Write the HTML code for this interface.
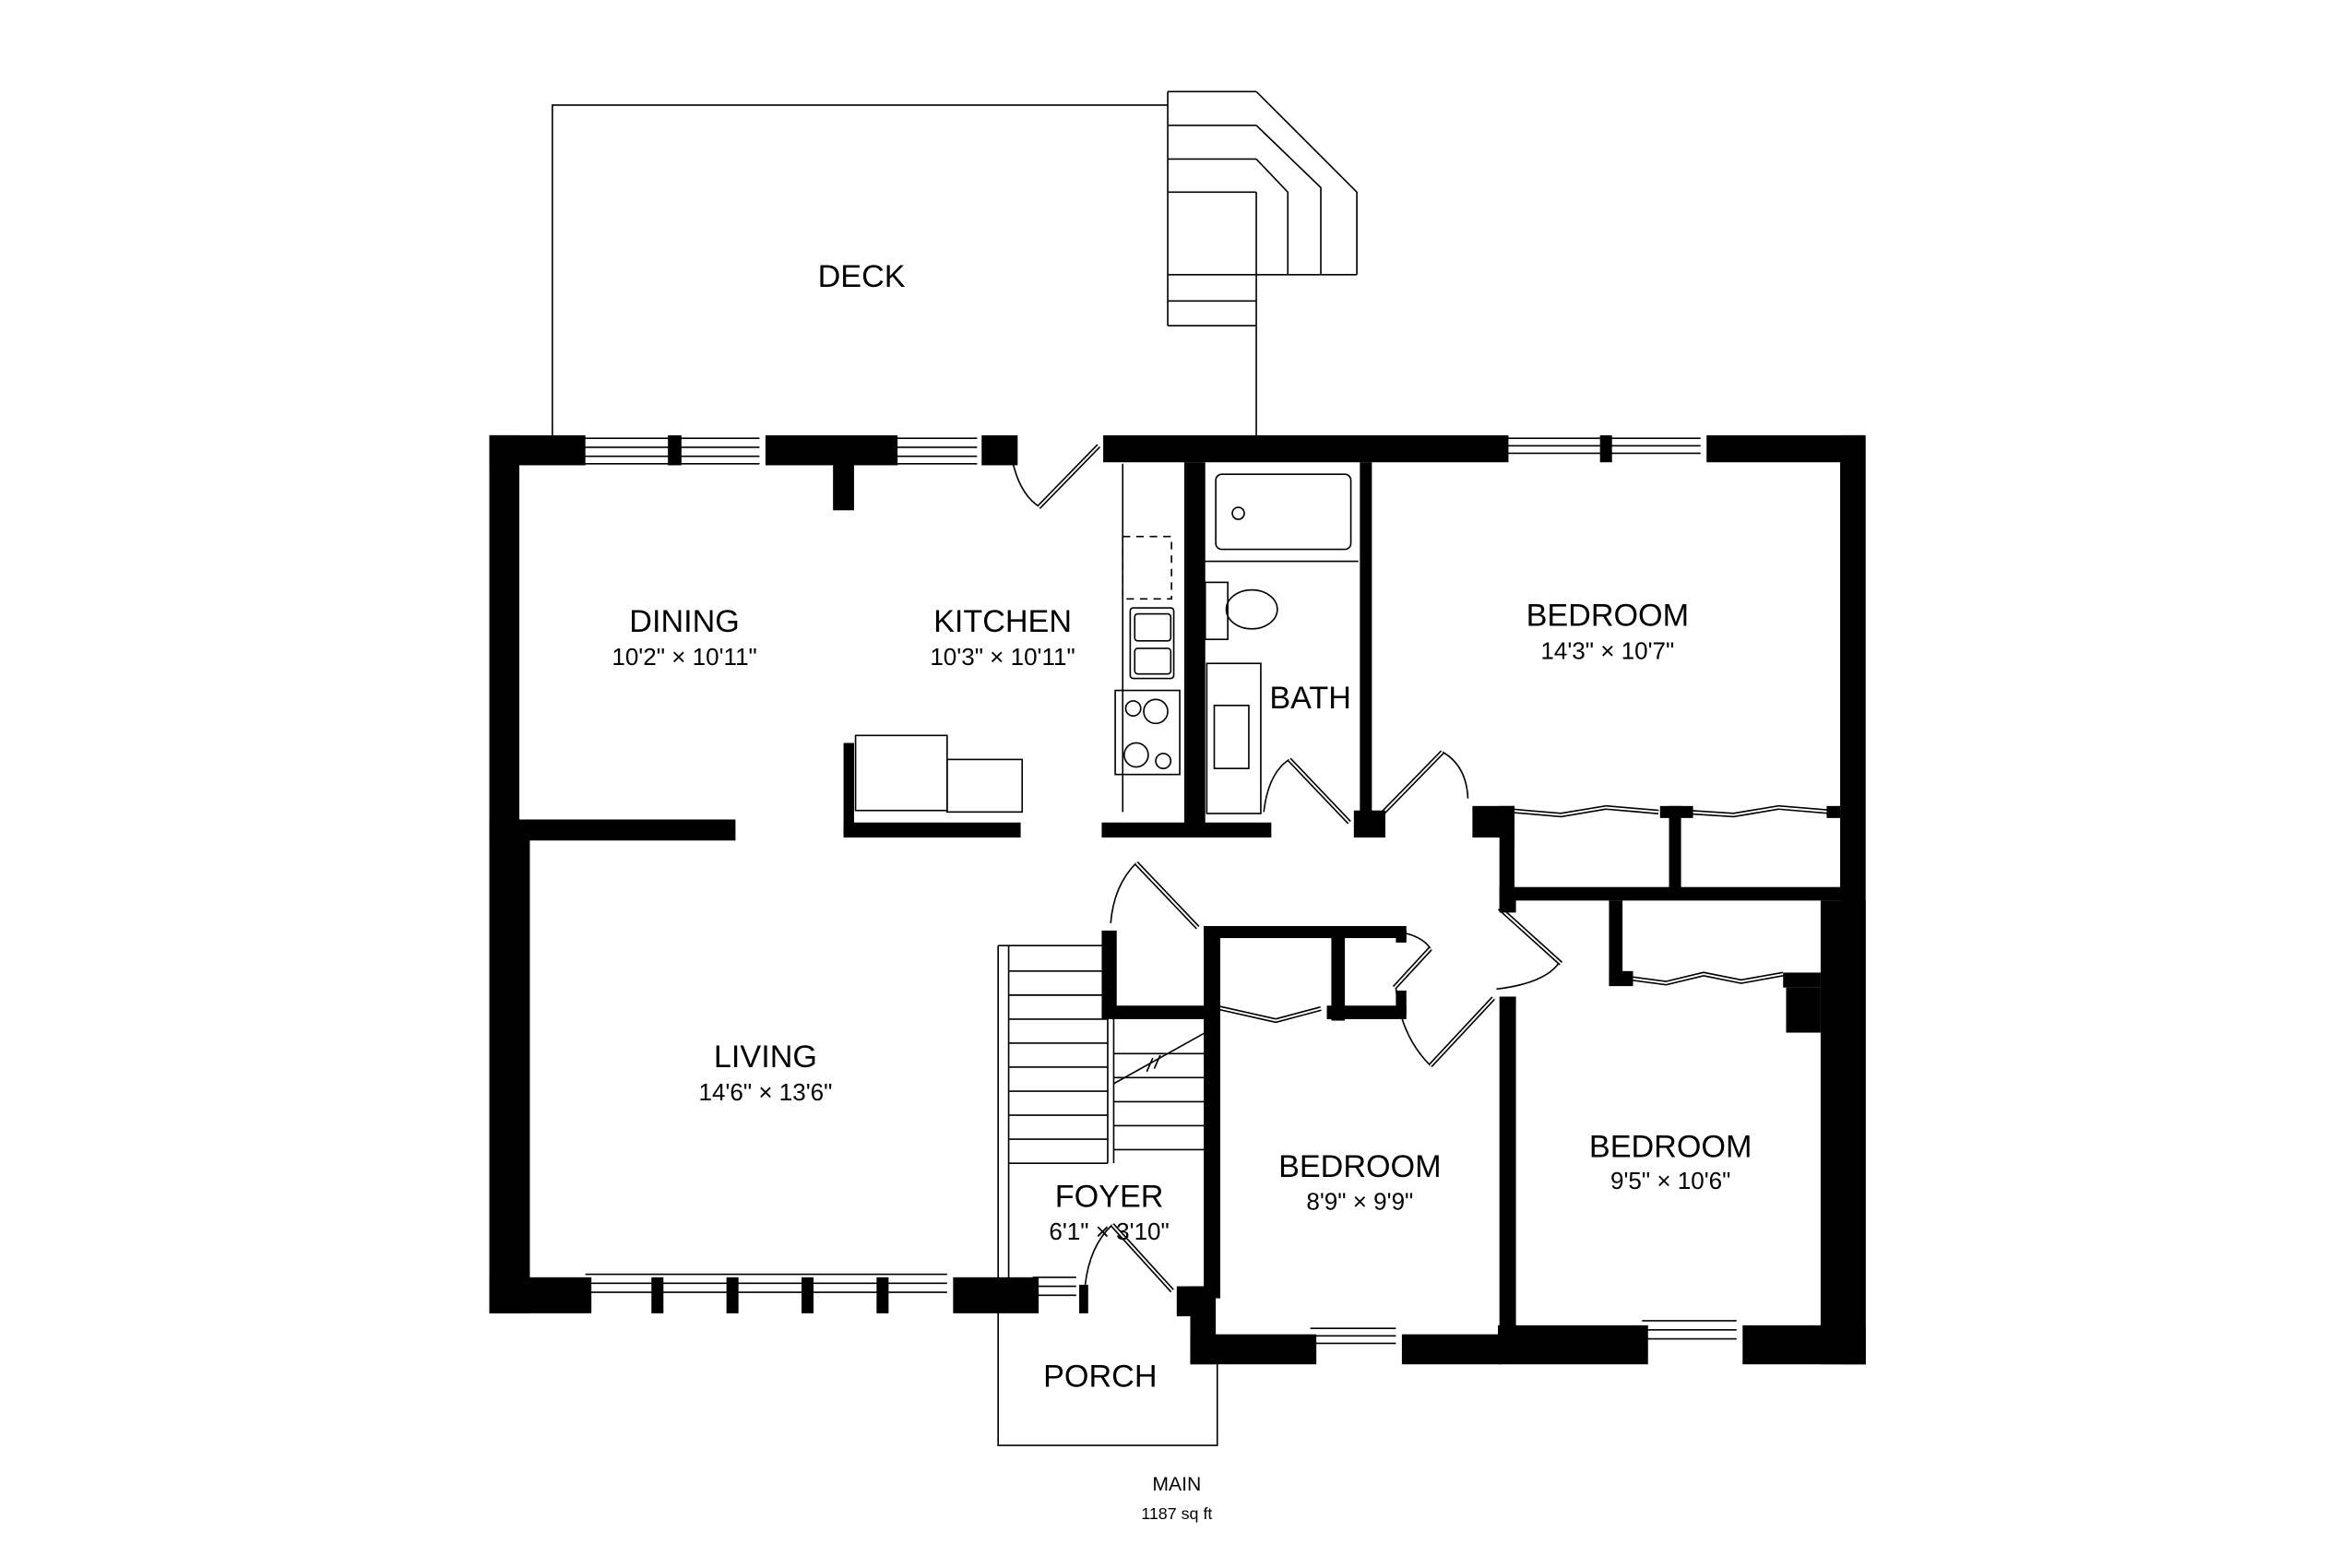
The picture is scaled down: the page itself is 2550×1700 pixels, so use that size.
<!DOCTYPE html>
<html><head><meta charset="utf-8"><style>
html,body{margin:0;padding:0;background:#fff}
svg{display:block}
text{font-family:"Liberation Sans",sans-serif;fill:#000}
</style></head><body>
<svg width="2550" height="1700" viewBox="0 0 1567 1044.7" xmlns="http://www.w3.org/2000/svg">
<rect x="0" y="0" width="1567" height="1044.7" fill="#fff"/>
<g fill="none" stroke="#000" stroke-width="1">
<polyline points="368,290 368,70 778,70"/>
<line x1="837" y1="217" x2="837" y2="290"/>
<polyline points="778,61 778,217"/>
<line x1="778" y1="61" x2="837" y2="61"/>
<line x1="778" y1="83.5" x2="837" y2="83.5"/>
<line x1="778" y1="106" x2="837" y2="106"/>
<line x1="778" y1="128" x2="837" y2="128"/>
<line x1="778" y1="183" x2="904" y2="183"/>
<line x1="778" y1="200.5" x2="837" y2="200.5"/>
<line x1="778" y1="217" x2="837" y2="217"/>
<line x1="837" y1="128" x2="837" y2="217"/>
<polyline points="837,61 904,128 904,183"/>
<polyline points="837,83.5 880,125 880,183"/>
<polyline points="837,106 858,128 858,183"/>
<line x1="748" y1="309" x2="748" y2="541"/>
<rect x="748" y="357.5" width="32.5" height="41.5" stroke-dasharray="5,4"/>
<rect x="753" y="405" width="29" height="47" rx="2"/>
<rect x="756" y="409" width="24" height="18" rx="2"/>
<rect x="756" y="432" width="24" height="17" rx="2"/>
<rect x="743" y="460" width="43" height="56"/>
<circle cx="755" cy="472" r="5"/><circle cx="770" cy="474" r="8"/>
<circle cx="757" cy="503" r="8"/><circle cx="775" cy="507" r="5"/>
<rect x="570" y="490" width="61" height="50"/>
<rect x="631" y="506" width="50" height="35"/>
<rect x="810" y="316" width="90" height="50" rx="4"/>
<circle cx="825" cy="342" r="4"/>
<line x1="801" y1="374" x2="905" y2="374"/>
<rect x="803" y="388" width="15" height="38"/>
<ellipse cx="834" cy="406" rx="17" ry="13"/>
<rect x="804" y="442" width="36" height="100"/>
<rect x="809" y="470" width="23" height="42"/>
<polyline points="665,866 665,963 811,963 811,899"/>
<line x1="665" y1="630" x2="665" y2="866"/>
<line x1="672" y1="630" x2="672" y2="866"/>
<line x1="665" y1="630" x2="738" y2="630"/>
<line x1="672" y1="647" x2="738" y2="647"/>
<line x1="672" y1="663" x2="738" y2="663"/>
<line x1="672" y1="679" x2="738" y2="679"/>
<line x1="672" y1="695" x2="738" y2="695"/>
<line x1="672" y1="711" x2="738" y2="711"/>
<line x1="672" y1="727" x2="738" y2="727"/>
<line x1="672" y1="743" x2="738" y2="743"/>
<line x1="672" y1="759" x2="738" y2="759"/>
<line x1="672" y1="775" x2="738" y2="775"/>
<line x1="738" y1="675" x2="738" y2="775"/>
<line x1="742" y1="675" x2="742" y2="775"/>
<line x1="742" y1="702" x2="803" y2="702"/>
<line x1="742" y1="718" x2="803" y2="718"/>
<line x1="742" y1="734" x2="803" y2="734"/>
<line x1="742" y1="750" x2="803" y2="750"/>
<line x1="742" y1="766" x2="803" y2="766"/>
<line x1="742" y1="722" x2="803" y2="688"/>
<line x1="764" y1="714" x2="768" y2="705"/><line x1="769" y1="712" x2="773" y2="703"/>
<path d="M675,309 Q680,330 693,338"/>
<path d="M842,541 Q845,515 859,506"/>
<path d="M978,532 Q977,510 961,501"/>
<path d="M740,615 Q742,590 757,575"/>
<path d="M997,659 Q1030,655 1039,641"/>
<path d="M930,658 Q933,690 953,710"/>
<path d="M933,621 Q948,624 953,632"/>
<path d="M723,856 Q726,830 741,816"/>
</g>
<g fill="none" stroke="#000" stroke-width="3.2">
<line x1="692" y1="338" x2="732" y2="297"/>
<line x1="859" y1="506" x2="899" y2="548"/>
<line x1="920" y1="543" x2="961" y2="501"/>
<line x1="757" y1="575" x2="798" y2="618"/>
<line x1="999" y1="605" x2="1040" y2="642"/>
<line x1="953" y1="710" x2="995" y2="665"/>
<line x1="953" y1="632" x2="929" y2="658"/>
<line x1="741" y1="816" x2="781" y2="860"/>
<polyline points="1005,540 1040,543 1070,538 1105,541"/>
<polyline points="1124,541 1155,543 1185,538 1221,541"/>
<polyline points="810,671 850,680 880,672"/>
<polyline points="1080,651 1110,655 1135,649 1160,654 1188,649"/>
</g>
<g fill="none" stroke="#fff" stroke-width="1.2">
<line x1="692" y1="338" x2="732" y2="297"/>
<line x1="859" y1="506" x2="899" y2="548"/>
<line x1="920" y1="543" x2="961" y2="501"/>
<line x1="757" y1="575" x2="798" y2="618"/>
<line x1="999" y1="605" x2="1040" y2="642"/>
<line x1="953" y1="710" x2="995" y2="665"/>
<line x1="953" y1="632" x2="929" y2="658"/>
<line x1="741" y1="816" x2="781" y2="860"/>
<polyline points="1005,540 1040,543 1070,538 1105,541"/>
<polyline points="1124,541 1155,543 1185,538 1221,541"/>
<polyline points="810,671 850,680 880,672"/>
<polyline points="1080,651 1110,655 1135,649 1160,654 1188,649"/>
</g>
<g fill="none" stroke="#000" stroke-width="1">
<path d="M387,292H506M387,298H506M387,304H506M387,309H506"/>
<path d="M594,292H651M594,298H651M594,304H651M594,309H651"/>
<path d="M1001,292H1133M1001,297H1133M1001,302H1133"/>
<path d="M390,849H631M390,855H631M390,861H631"/>
<path d="M688,851H717M688,857H717M688,863H717"/>
<path d="M873,885H930M873,890H930M873,895H930"/>
<path d="M1094,880H1157M1094,886H1157M1094,892H1157"/>
</g>
<g fill="#000">
<rect x="326" y="290" width="64" height="20"/>
<rect x="445" y="290" width="9" height="20"/>
<rect x="510" y="290" width="88" height="20"/>
<rect x="555" y="308" width="14" height="32"/>
<rect x="654" y="290" width="24" height="20"/>
<rect x="735" y="290" width="270" height="18"/>
<rect x="1066" y="290" width="8" height="18"/>
<rect x="1137" y="290" width="105" height="18"/>
<rect x="326" y="290" width="20" height="266"/>
<rect x="326" y="546" width="164" height="14"/>
<rect x="326" y="556" width="27" height="319"/>
<rect x="326" y="851" width="68" height="24"/>
<rect x="434" y="851" width="8" height="24"/>
<rect x="484" y="851" width="8" height="24"/>
<rect x="534" y="851" width="8" height="24"/>
<rect x="584" y="851" width="8" height="24"/>
<rect x="635" y="851" width="57" height="24"/>
<rect x="719" y="856" width="6" height="19"/>
<rect x="784" y="857" width="20" height="20"/>
<rect x="793" y="857" width="17" height="52"/>
<rect x="793" y="889" width="84" height="20"/>
<rect x="934" y="889" width="66" height="20"/>
<rect x="998" y="883" width="100" height="26"/>
<rect x="1161" y="883" width="82" height="26"/>
<rect x="1226" y="290" width="17" height="619"/>
<rect x="1213" y="600" width="30" height="309"/>
<rect x="789" y="308" width="14" height="250"/>
<rect x="906" y="308" width="8" height="240"/>
<rect x="902" y="540" width="21" height="18"/>
<rect x="734" y="548" width="113" height="10"/>
<rect x="562" y="548" width="118" height="10"/>
<rect x="562" y="495" width="7" height="60"/>
<rect x="981" y="537" width="28" height="21"/>
<rect x="999" y="537" width="10" height="70"/>
<rect x="999" y="591" width="228" height="9"/>
<rect x="1112" y="537" width="8" height="58"/>
<rect x="1106" y="537" width="22" height="8"/>
<rect x="1217" y="537" width="9" height="8"/>
<rect x="999" y="596" width="11" height="12"/>
<rect x="999" y="664" width="11" height="221"/>
<rect x="1072" y="600" width="9" height="55"/>
<rect x="1072" y="647" width="16" height="10"/>
<rect x="1188" y="648" width="25" height="10"/>
<rect x="1190" y="658" width="23" height="30"/>
<rect x="802" y="617" width="135" height="8"/>
<rect x="802" y="617" width="11" height="248"/>
<rect x="887" y="622" width="9" height="58"/>
<rect x="884" y="670" width="53" height="9"/>
<rect x="930" y="620" width="7" height="8"/>
<rect x="930" y="660" width="7" height="16"/>
<rect x="734" y="620" width="10" height="58"/>
<rect x="734" y="670" width="79" height="9"/>
</g>
<g text-anchor="middle">
<text x="574" y="191" font-size="21">DECK</text>
<text x="456" y="421" font-size="21">DINING</text>
<text x="456" y="443" font-size="16">10'2" × 10'11"</text>
<text x="668" y="421" font-size="21">KITCHEN</text>
<text x="668" y="443" font-size="16">10'3" × 10'11"</text>
<text x="873" y="472" font-size="21">BATH</text>
<text x="1071" y="417" font-size="21">BEDROOM</text>
<text x="1071" y="439" font-size="16">14'3" × 10'7"</text>
<text x="510" y="711" font-size="21">LIVING</text>
<text x="510" y="733" font-size="16">14'6" × 13'6"</text>
<text x="739" y="804" font-size="21">FOYER</text>
<text x="739" y="826" font-size="16">6'1" × 3'10"</text>
<text x="906" y="784" font-size="21">BEDROOM</text>
<text x="906" y="806" font-size="16">8'9" × 9'9"</text>
<text x="1113" y="771" font-size="21">BEDROOM</text>
<text x="1113" y="792" font-size="16">9'5" × 10'6"</text>
<text x="733" y="924" font-size="21">PORCH</text>
<text x="784" y="993" font-size="13">MAIN</text>
<text x="784" y="1012" font-size="11">1187 sq ft</text>
</g>
</svg>
</body></html>
